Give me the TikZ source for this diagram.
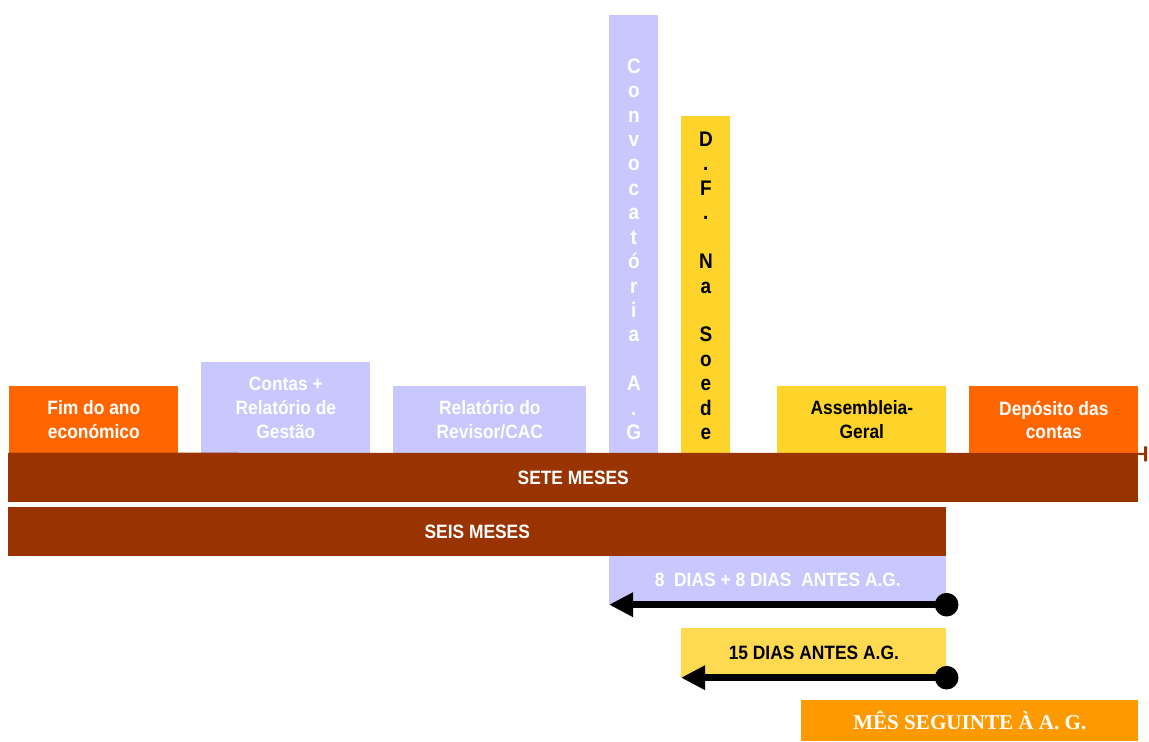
\documentclass[tikz,border=0pt]{standalone}
\usepackage{fontspec}
\setmainfont{Liberation Sans}[FakeStretch=0.9]
\newfontfamily\serifa{Liberation Serif}
\usetikzlibrary{arrows.meta}

\definecolor{laranja}{HTML}{FF6600}
\definecolor{lilas}{HTML}{C8C8FF}
\definecolor{amarelo}{HTML}{FFD42A}
\definecolor{amareloclaro}{HTML}{FFD94F}
\definecolor{castanho}{HTML}{993300}
\definecolor{laranjaclaro}{HTML}{FF9900}

\tikzset{
  caixa/.style={anchor=north west, inner sep=0pt, align=center,
    font=\bfseries\fontsize{11}{13.4}\selectfont},
  letras/.style={anchor=south, inner sep=0pt, align=center, yshift=0.27cm,
    font=\bfseries\fontsize{12}{13.9}\selectfont},
  prazo/.style={line width=0.14cm,
    {Circle[length=0.47cm]}-{Triangle[length=0.48cm,width=0.46cm]}},
}

\begin{document}
\begin{tikzpicture}[x=0.02cm, y=-0.02cm]
\useasboundingbox (0,0) rectangle (1149,742);

% Etapas acima da linha do tempo
\node[caixa, fill=laranja, text=white, minimum width=3.38cm, minimum height=1.34cm] (fimano) at (9,386) {Fim do ano\\económico};
\node[caixa, fill=lilas, text=white, minimum width=3.38cm, minimum height=1.82cm] (contas) at (201,362) {Contas +\\Relatório de\\Gestão};
\node[caixa, fill=lilas, text=white, minimum width=3.86cm, minimum height=1.34cm] (revisor) at (393,386) {Relatório do\\Revisor/CAC};
\node[caixa, fill=amarelo, minimum width=3.38cm, minimum height=1.34cm] (ag) at (777,386) {Assembleia-\\Geral};
\node[caixa, fill=laranja, text=white, minimum width=3.38cm, minimum height=1.34cm] (deposito) at (969,386) {Depósito das\\contas};

% Colunas com texto na vertical
\node[caixa, fill=lilas, minimum width=0.98cm, minimum height=8.76cm] (convoc) at (609,15) {};
\node[letras, text=white] (convoctexto) at (convoc.south) {C\\o\\n\\v\\o\\c\\a\\t\\ó\\r\\i\\a\\\mbox{}\\A\\.\\G};
\node[caixa, fill=amarelo, minimum width=0.98cm, minimum height=6.74cm] (dfsede) at (681,116) {};
\node[letras] (dfsedetexto) at (dfsede.south) {D\\.\\F\\.\\\mbox{}\\N\\a\\\mbox{}\\S\\o\\e\\d\\e};

% Linha do tempo
\coordinate (fimlinha) at (1147,454);
\draw[castanho, line width=0.04cm, -{Bar[width=0.3cm, line width=0.06cm]}] (fimano.south west) -- (fimlinha);

% Prazos
\node[caixa, fill=castanho, text=white, minimum width=22.6cm, minimum height=0.98cm] (sete) at (8,453) {SETE MESES};
\node[caixa, fill=castanho, text=white, minimum width=18.76cm, minimum height=0.98cm] (seis) at (8,507) {SEIS MESES};
\node[caixa, fill=lilas, text=white, minimum width=6.74cm, minimum height=0.96cm] (dias8) at (609,556) {8\ \ DIAS + 8 DIAS\ \ ANTES A.G.};
\node[caixa, fill=amareloclaro, minimum width=5.3cm, minimum height=0.98cm] (dias15) at (681,628) {15 DIAS ANTES A.G.};
\node[caixa, fill=laranjaclaro, text=white, minimum width=6.74cm, minimum height=0.82cm,
  font=\serifa\bfseries\fontsize{12}{14}\selectfont] (mes) at (801,700) {MÊS SEGUINTE À A. G.};

% Setas (contagem para trás a partir da A.G.)
\draw[prazo] ([xshift=0.235cm]dias8.south east) -- (dias8.south west);
\draw[prazo] ([xshift=0.235cm]dias15.south east) -- (dias15.south west);
\end{tikzpicture}
\end{document}
